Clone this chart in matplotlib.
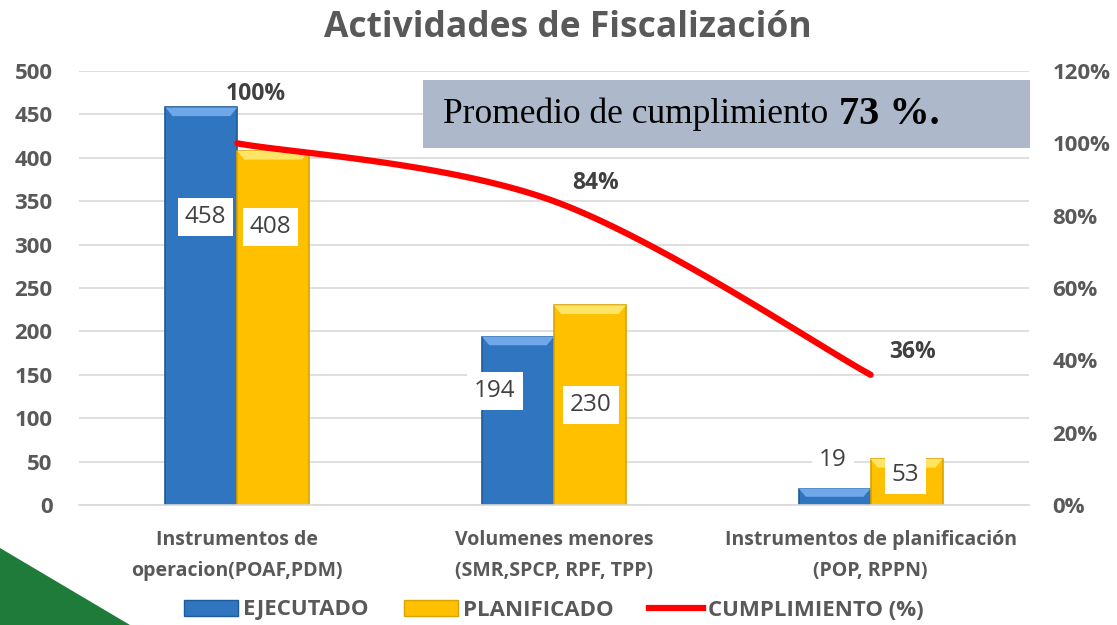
import numpy as np
import matplotlib.pyplot as plt
from matplotlib.patches import Polygon, Rectangle, Patch
from matplotlib.lines import Line2D

categorias = ["Instrumentos de\noperacion(POAF,PDM)",
              "Volumenes menores\n(SMR,SPCP, RPF, TPP)",
              "Instrumentos de planificación\n(POP, RPPN)"]
ejecutado = [458, 194, 19]
planificado = [408, 230, 53]
cumplimiento = [100, 84, 36]
promedio = 73

GRIS = "#595959"
AZUL = "#2F75C0"
AMARILLO = "#FFC000"
ROJO = "#FF0000"


def catmull_rom(xs, ys, n=60):
    # curva suavizada al estilo Excel
    px = [xs[0]] + list(xs) + [xs[-1]]
    py = [ys[0]] + list(ys) + [ys[-1]]
    out_x, out_y = [], []
    for i in range(1, len(px) - 2):
        t = np.linspace(0, 1, n)
        p0, p1, p2, p3 = (np.array([px[j], py[j]]) for j in range(i - 1, i + 3))
        c1 = p1 + (p2 - p0) / 6
        c2 = p2 - (p3 - p1) / 6
        b = ((1 - t) ** 3)[:, None] * p1 + (3 * (1 - t) ** 2 * t)[:, None] * c1 \
            + (3 * (1 - t) * t ** 2)[:, None] * c2 + (t ** 3)[:, None] * p2
        out_x.extend(b[:, 0]); out_y.extend(b[:, 1])
    return np.array(out_x), np.array(out_y)


def barra_bisel(ax, x, w, h, color, claro, oscuro):
    ax.add_patch(Rectangle((x, 0), w, h, facecolor=color, edgecolor=oscuro,
                           linewidth=1.2, zorder=2))
    bh = min(10, h * 0.5)
    ax.add_patch(Polygon([(x, h), (x + w, h), (x + w * 0.9, h - bh), (x + w * 0.1, h - bh)],
                         closed=True, facecolor=claro, edgecolor="none", zorder=2.1))


fig = plt.figure(figsize=(11.17, 6.25), dpi=100)
ax = fig.add_axes([0.0707, 0.192, 0.8505, 0.6944])
ax2 = ax.twinx()

x = np.arange(len(categorias))
w = 0.227
for i in x:
    barra_bisel(ax, i - w, w, ejecutado[i], AZUL, "#6FA8E8", "#1F5A9A")
    barra_bisel(ax, i, w, planificado[i], AMARILLO, "#FFE566", "#D9A300")

ax.set_xlim(-0.5, 2.5)
ax.set_ylim(0, 500)
ax.set_yticks(np.arange(0, 501, 50))
ax.set_xticks(x)
ax.set_xticklabels(categorias, fontsize=14, fontweight="bold", color=GRIS,
                   linespacing=1.75, family="Open Sans")
ax.tick_params(axis="x", length=0, pad=18)
ax.tick_params(axis="y", length=0, pad=19, labelsize=16, labelcolor=GRIS)
for lb in ax.get_yticklabels():
    lb.set_fontweight("bold")
    lb.set_family("Open Sans")
ax.grid(axis="y", color="#D9D9D9", linewidth=1.2)
ax.set_axisbelow(True)
for s in ["top", "left", "right"]:
    ax.spines[s].set_visible(False)
ax.spines["bottom"].set_color("#D9D9D9")
ax.spines["bottom"].set_linewidth(1.2)

ax2.set_ylim(0, 120)
ax2.set_yticks(np.arange(0, 121, 20))
ax2.set_yticklabels([f"{v}%" for v in range(0, 121, 20)])
ax2.tick_params(axis="y", length=0, pad=17, labelsize=16, labelcolor=GRIS)
for lb in ax2.get_yticklabels():
    lb.set_fontweight("bold")
    lb.set_family("Open Sans")
for s in ax2.spines.values():
    s.set_visible(False)

sx, sy = catmull_rom(x, cumplimiento)
ax2.plot(sx, sy, color=ROJO, linewidth=4.5, solid_capstyle="round", zorder=5)

offs = [(0.057, 13.6), (0.133, 5.0), (0.133, 6.3)]
for i, v in enumerate(cumplimiento):
    ax2.text(i + offs[i][0], v + offs[i][1], f"{v}%", fontsize=16.5, fontweight="bold",
             color="#404040", ha="center", va="center", family="Open Sans", zorder=6)

caja = dict(facecolor="white", edgecolor="none", pad=5)
pos_e = [(-0.1, 332), (-0.186, 131), (-0.12, 52)]
pos_p = [(0.105, 320), (0.117, 115), (0.11, 35)]
for i in x:
    ax.text(i + pos_e[i][0], pos_e[i][1], str(ejecutado[i]), fontsize=17.5, color="#404040",
            ha="center", va="center", bbox=caja, zorder=7, family="Open Sans")
    ax.text(i + pos_p[i][0], pos_p[i][1], str(planificado[i]), fontsize=17.5, color="#404040",
            ha="center", va="center", bbox=caja, zorder=7, family="Open Sans")

# recuadro del promedio
fig.patches.append(Rectangle((423 / 1117, 1 - 148 / 625), 607 / 1117, 68 / 625,
                             transform=fig.transFigure, facecolor="#ADB9CA",
                             edgecolor="none", zorder=8))
fig.text(443 / 1117, 1 - 114 / 625, "Promedio de cumplimiento", fontsize=25.5,
         family="Liberation Serif", va="center", ha="left", zorder=9)
fig.text(839 / 1117, 1 - 114 / 625, f"{promedio} %.", fontsize=29, fontweight="bold",
         family="Liberation Serif", va="center", ha="left", zorder=9)

fig.text(0.508, 1 - 28 / 625, "Actividades de Fiscalización", fontsize=25.5,
         fontweight="bold", color=GRIS, ha="center", va="center", family="Open Sans")

# decoración verde
fig.patches.append(Polygon([(0, 1 - 548 / 625), (130 / 1117, 0), (0, 0)], closed=True,
                           transform=fig.transFigure, facecolor="#1E7B3A",
                           edgecolor="none", zorder=0))

handles = [Patch(facecolor=AZUL, edgecolor="#1F5A9A"),
           Patch(facecolor=AMARILLO, edgecolor="#D9A300"),
           Line2D([0], [0], color=ROJO, linewidth=4.5)]
leg = fig.legend(handles, ["EJECUTADO", "PLANIFICADO", "CUMPLIMIENTO (%)"],
                 loc="center", bbox_to_anchor=(554 / 1117, 1 - 610 / 625), ncol=3,
                 frameon=False, handlelength=2.4, handleheight=0.75, handletextpad=0.25,
                 columnspacing=1.6, prop={"family": "Open Sans", "weight": "bold", "size": 16})
for t in leg.get_texts():
    t.set_color(GRIS)

fig.savefig("out.png", dpi=100)
